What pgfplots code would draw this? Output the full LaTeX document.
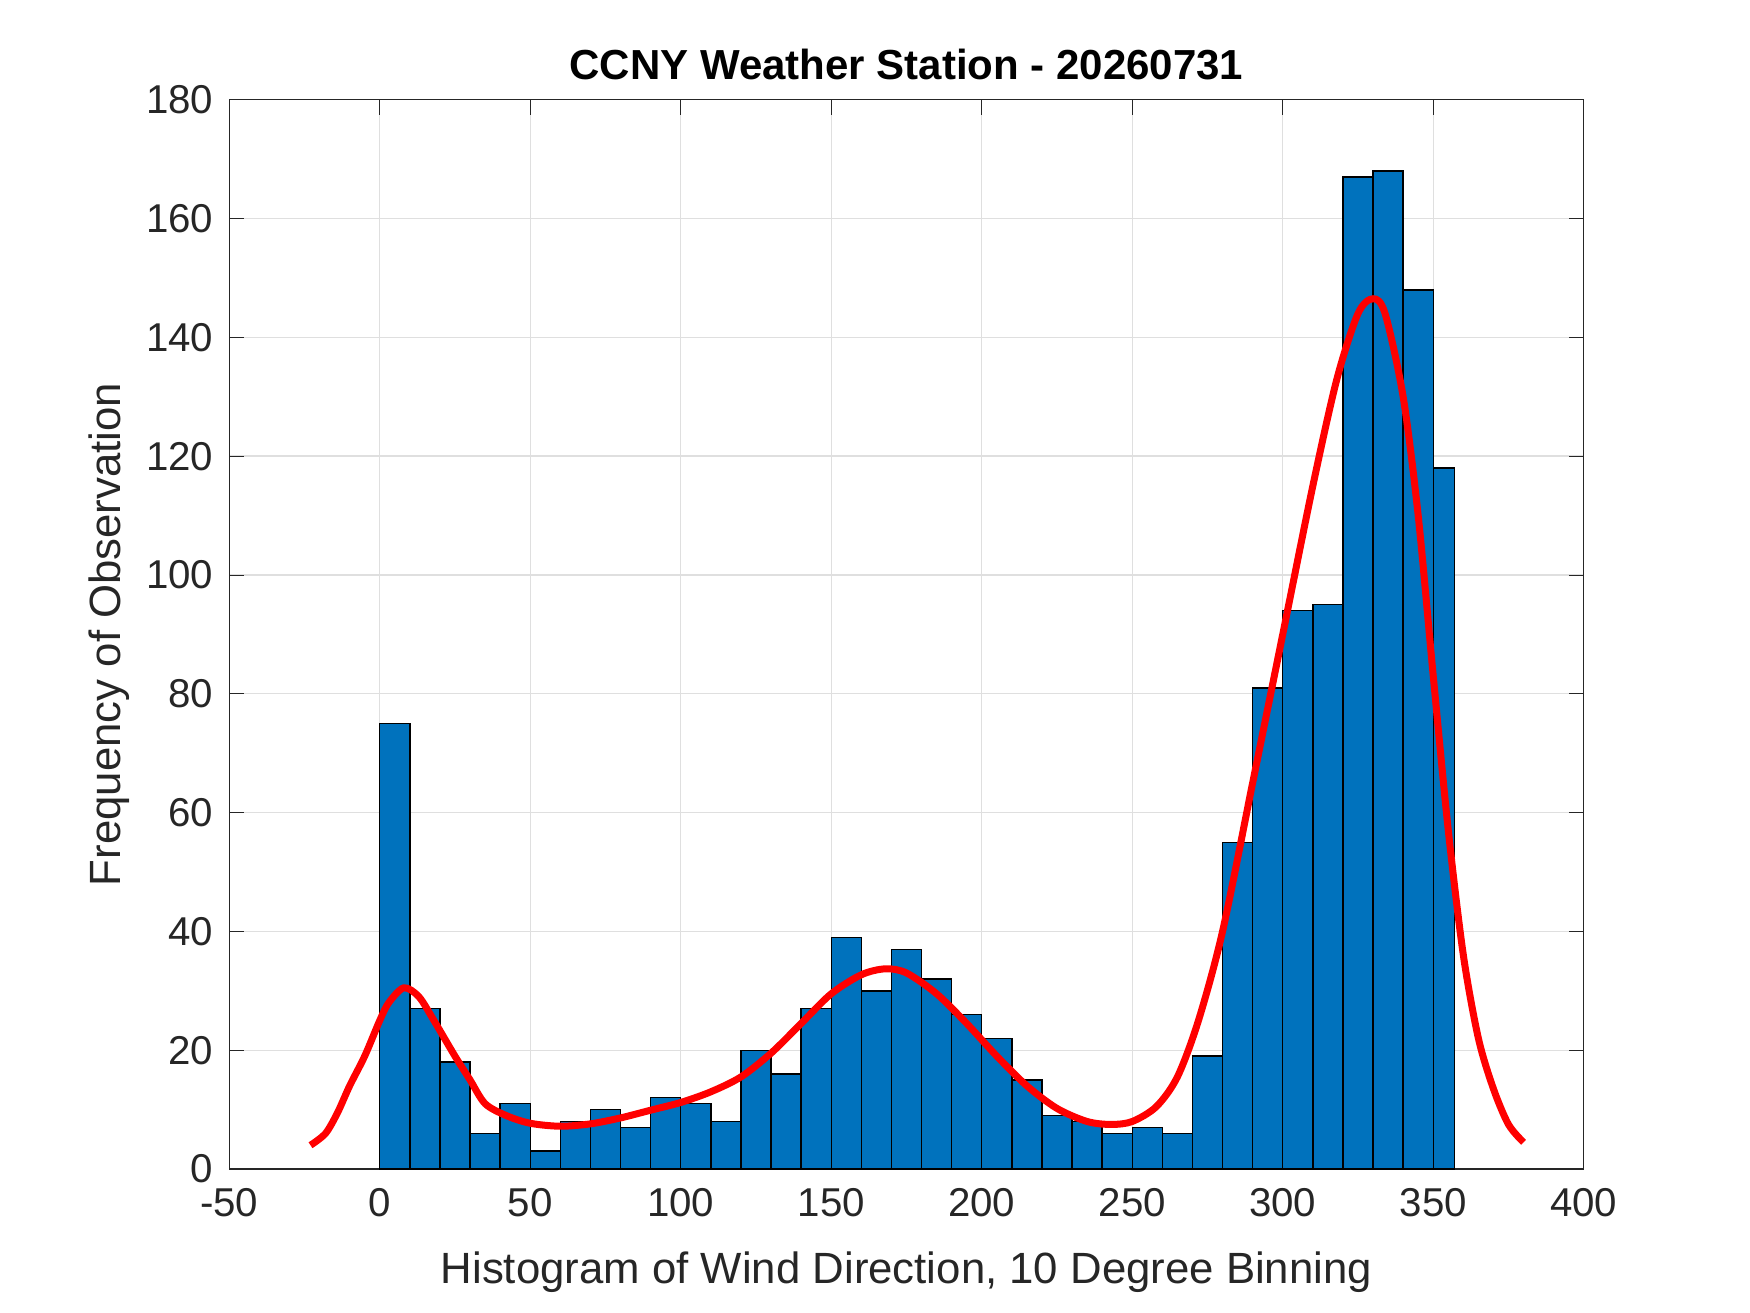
\documentclass[border=0pt]{standalone}
\usepackage{pgfplots}
\pgfplotsset{compat=1.18}
\usepackage{fontspec}
\setmainfont{Liberation Sans}
\definecolor{mblue}{RGB}{0,114,189}
\definecolor{tgray}{RGB}{38,38,38}
\begin{document}
\begin{tikzpicture}
\useasboundingbox (-65.5pt,-41pt) rectangle (434.5pt,334pt);
\begin{axis}[at={(0,0)},anchor=south west,scale only axis,width=387pt,height=305.5pt,
xmin=-50,xmax=400,ymin=0,ymax=180,
xtick={-50,0,...,400},ytick={0,20,...,180},
grid=major,grid style={gray!25},
tick align=inside,axis line style={tgray},major tick style={tgray},
tick label style={font=\fontsize{11.5}{13}\selectfont,text=tgray},
xticklabel style={yshift=-2pt},yticklabel style={xshift=-1pt},
/pgf/number format/assume math mode=true,
xlabel={Histogram of Wind Direction, 10 Degree Binning},
ylabel={Frequency of Observation},
label style={font=\fontsize{12.5}{14}\selectfont,text=tgray},
title={\textbf{CCNY Weather Station - 20260731}},
title style={font=\fontsize{12}{14}\selectfont,yshift=-4pt},
xlabel style={yshift=-3pt},ylabel style={yshift=-2pt}]
\addplot[ybar interval,fill=mblue,draw=black,line width=0.4pt] coordinates {
(0,75)(10,27)(20,18)(30,6)(40,11)(50,3)(60,8)(70,10)(80,7)(90,12)(100,11)(110,8)(120,20)(130,16)(140,27)(150,39)(160,30)(170,37)(180,32)(190,26)(200,22)(210,15)(220,9)(230,8)(240,6)(250,7)(260,6)(270,19)(280,55)(290,81)(300,94)(310,95)(320,167)(330,168)(340,148)(350,118)(357,118)};
\addplot[red,line width=2pt,smooth,no marks] coordinates {
(-23,4)(-18,6)(-14,9.5)(-10,14)(-5,19)(0,25)(3,28)(8,30.5)(13,29)(18,25)(25,19)(30,15)(35,11)(42,9)(50,7.7)(60,7.2)(70,7.6)(80,8.6)(90,9.9)(100,11.2)(110,13)(120,15.5)(130,19.5)(140,24.5)(150,29.5)(160,32.7)(168,33.7)(175,33)(185,29.5)(195,24.5)(205,19)(215,14)(225,10.2)(235,8)(243,7.5)(250,8)(258,10.5)(265,15.5)(272,25)(280,40)(290,65)(300,90)(310,115)(318,133)(325,144)(330,146.5)(334,144)(340,130)(345,110)(350,83)(355,57)(360,36)(365,22)(370,13.5)(375,7.5)(380,4.5)};
\end{axis}
\end{tikzpicture}
\end{document}
